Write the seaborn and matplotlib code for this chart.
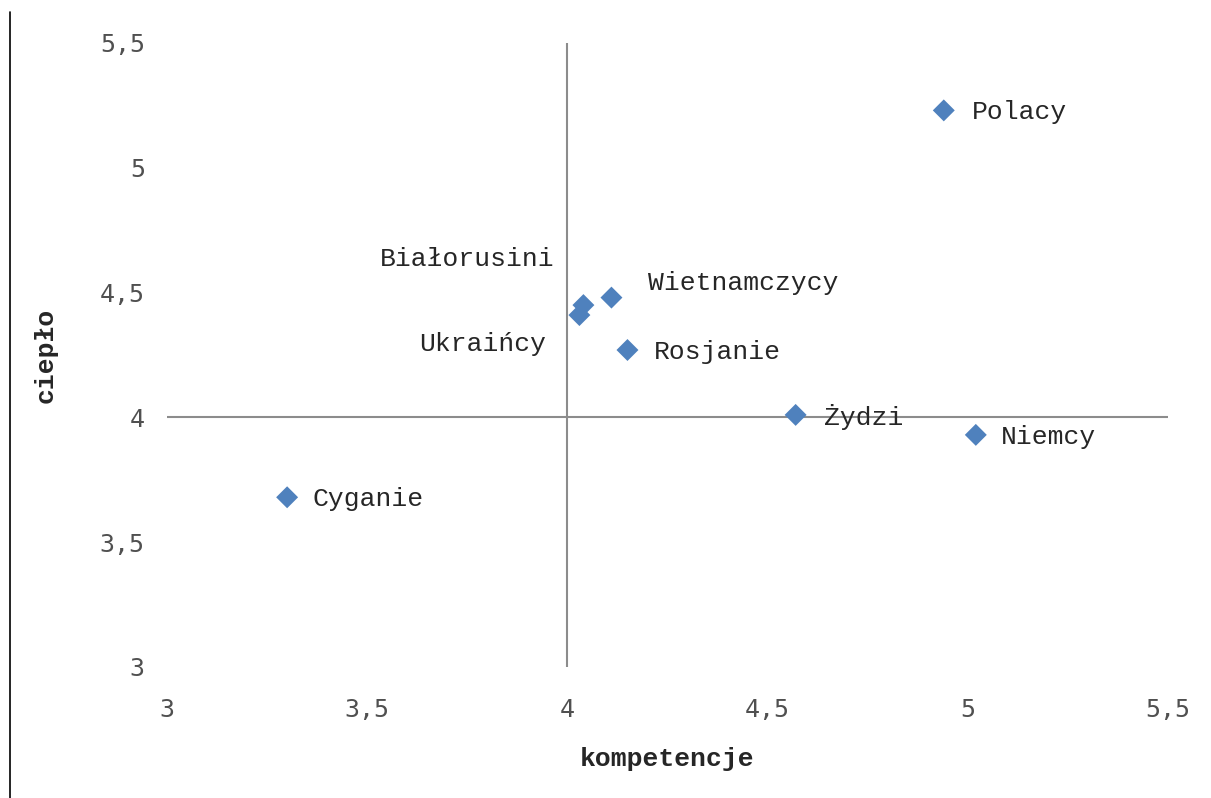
import numpy as np
import pandas as pd
import seaborn as sns
import matplotlib.pyplot as plt
from matplotlib.lines import Line2D

# data
groups = ["Polacy", "Białorusini", "Wietnamczycy", "Ukraińcy",
          "Rosjanie", "Żydzi", "Niemcy", "Cyganie"]
kompetencje = [4.94, 4.04, 4.11, 4.03, 4.15, 4.57, 5.02, 3.30]
cieplo = [5.23, 4.45, 4.48, 4.41, 4.27, 4.01, 3.93, 3.68]
ticks = [3, 3.5, 4, 4.5, 5, 5.5]
tick_labels = ["3", "3,5", "4", "4,5", "5", "5,5"]

# label offsets in pixels (dx, dy, ha)
offsets = [(28, -2, "left"), (-29, 46, "right"), (37, 15, "left"),
           (-33, -29, "right"), (26, -2, "left"), (28, -2, "left"),
           (25, -2, "left"), (25, -2, "left")]

df = pd.DataFrame({"kompetencje": kompetencje, "cieplo": cieplo, "grupa": groups})

sns.set_style("white")
plt.rcParams["font.family"] = ["Liberation Mono", "DejaVu Sans Mono"]

fig = plt.figure(figsize=(12.11, 7.98), dpi=100)
ax = fig.add_axes([167 / 1211, 1 - 667 / 798, (1168 - 167) / 1211, (667 - 43) / 798])

sns.scatterplot(data=df, x="kompetencje", y="cieplo", marker="D", s=125,
                color="#4F81BD", edgecolor="none", linewidth=0, ax=ax, zorder=3)

ax.set_xlim(3, 5.5)
ax.set_ylim(3, 5.5)
ax.axvline(4, color="#8C8C8C", lw=1.5, zorder=1)
ax.axhline(4, color="#8C8C8C", lw=1.5, zorder=1)
for sp in ax.spines.values():
    sp.set_visible(False)

ax.set_xticks(ticks)
ax.set_xticklabels(tick_labels)
ax.set_yticks(ticks)
ax.set_yticklabels(tick_labels)
ax.tick_params(length=0, labelsize=18, labelcolor="#505050")
ax.tick_params(axis="x", pad=22)
ax.tick_params(axis="y", pad=16)
for lab in ax.get_xticklabels() + ax.get_yticklabels():
    lab.set_family(["DejaVu Sans Mono"])

for g, x, y, (dx, dy, ha) in zip(groups, kompetencje, cieplo, offsets):
    ax.annotate(g, (x, y), xytext=(dx, dy), textcoords="offset pixels",
                ha=ha, va="center", fontsize=19, color="#262626")

ax.set_xlabel("kompetencje", fontsize=19, fontweight="bold", labelpad=18)
ax.set_ylabel("ciepło", fontsize=19, fontweight="bold", labelpad=30)

# outer frame line at left
fig.add_artist(Line2D([10 / 1211, 10 / 1211], [0, 1 - 12 / 798],
                      transform=fig.transFigure, color="black", lw=1.2))

fig.savefig("out.png", dpi=100, facecolor="white")
